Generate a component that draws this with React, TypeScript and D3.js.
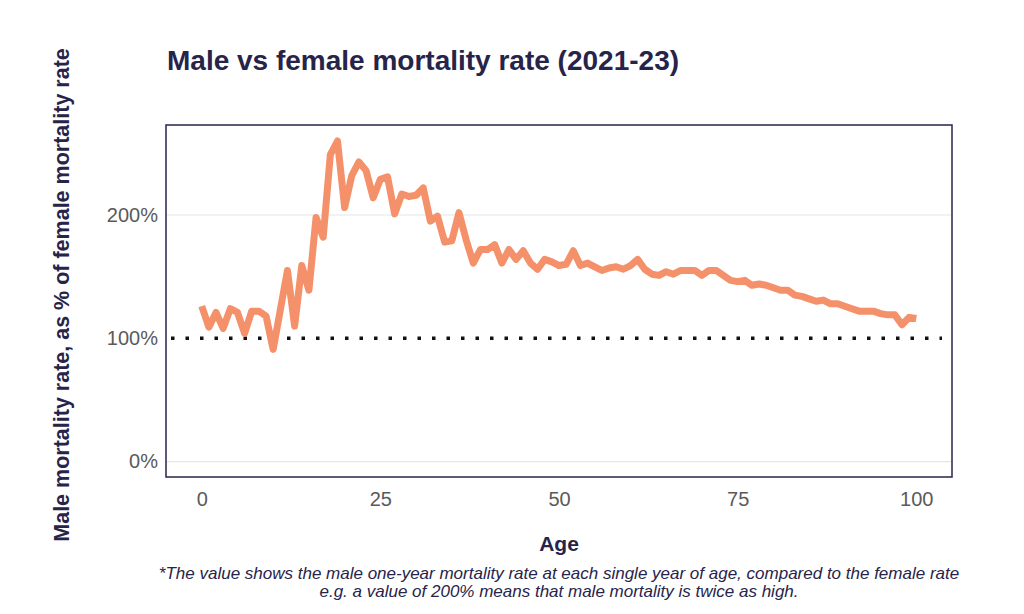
import React, { useRef, useEffect } from "react";
import * as d3 from "d3";

// Male mortality rate as % of female rate, single year of age 0-100
const ages = d3.range(0, 101);
const ratio = [
  126, 109, 121, 108, 124, 121, 104, 122, 122, 118,
  91, 123, 155, 110, 159, 139, 198, 182, 249, 260,
  206, 232, 243, 236, 214, 229, 231, 201, 217, 215,
  216, 222, 195, 199, 178, 179, 202, 180, 161, 172,
  172, 176, 161, 172, 164, 171, 161, 156, 164, 162,
  159, 160, 171, 159, 161, 158, 155, 157, 158, 156,
  159, 164, 156, 152, 151, 154, 152, 155, 155, 155,
  151, 155, 155, 151, 147, 146, 147, 143, 144, 143,
  141, 139, 139, 135, 134, 132, 130, 131, 128, 128,
  126, 124, 122, 122, 122, 120, 119, 119, 111, 117,
  116,
];
const xTicks = [0, 25, 50, 75, 100];
const yTicks = [0, 100, 200];

const navy = "#27244a";
const sans = "'Liberation Sans', Arial, sans-serif";

const App = () => {
  const ref = useRef<SVGSVGElement | null>(null);

  useEffect(() => {
    const frame = { left: 166, right: 952, top: 125, bottom: 477 };

    const svg = d3.select(ref.current);
    svg.selectAll("*").remove();

    const x = d3.scaleLinear().domain([-5, 105]).range([frame.left, frame.right]);
    const y = d3.scaleLinear().domain([-12.5, 273]).range([frame.bottom, frame.top]);

    // Title
    svg.append("text")
      .attr("x", 167)
      .attr("y", 70)
      .attr("fill", navy)
      .attr("font-family", sans)
      .attr("font-weight", "bold")
      .attr("font-size", 28)
      .text("Male vs female mortality rate (2021-23)");

    // Gridlines
    svg.append("g")
      .selectAll("line")
      .data(yTicks.filter((t) => t !== 100))
      .join("line")
      .attr("x1", frame.left)
      .attr("x2", frame.right)
      .attr("y1", (d) => y(d))
      .attr("y2", (d) => y(d))
      .attr("stroke", "#e6e6e6")
      .attr("stroke-width", 1.2);

    // 100% reference
    svg.append("line")
      .attr("x1", frame.left + 5)
      .attr("x2", frame.right - 10)
      .attr("y1", y(100))
      .attr("y2", y(100))
      .attr("stroke", "#111")
      .attr("stroke-width", 3.5)
      .attr("stroke-dasharray", "3.5 11");

    // Line
    const line = d3
      .line<number>()
      .x((_, i) => x(ages[i]))
      .y((d) => y(d));

    svg.append("path")
      .datum(ratio)
      .attr("fill", "none")
      .attr("stroke", "#f4916a")
      .attr("stroke-width", 7)
      .attr("stroke-linejoin", "round")
      .attr("d", line);

    // Frame
    svg.append("rect")
      .attr("x", frame.left)
      .attr("y", frame.top)
      .attr("width", frame.right - frame.left)
      .attr("height", frame.bottom - frame.top)
      .attr("fill", "none")
      .attr("stroke", navy)
      .attr("stroke-width", 1.5);

    // Y axis
    const yAxis = svg.append("g")
      .attr("transform", `translate(${frame.left - 5},0)`)
      .call(d3.axisLeft(y).tickValues(yTicks).tickSize(0).tickFormat((d) => `${d}%`));
    yAxis.select(".domain").remove();
    yAxis.selectAll("text")
      .attr("fill", "#5a5a5a")
      .attr("font-family", sans)
      .attr("font-size", 20);

    // X axis
    const xAxis = svg.append("g")
      .attr("transform", `translate(0,${frame.bottom + 8})`)
      .call(d3.axisBottom(x).tickValues(xTicks).tickSize(0));
    xAxis.select(".domain").remove();
    xAxis.selectAll("text")
      .attr("fill", "#5a5a5a")
      .attr("font-family", sans)
      .attr("font-size", 20)
      .attr("dy", "0.9em");

    // Axis titles
    svg.append("text")
      .attr("x", (frame.left + frame.right) / 2)
      .attr("y", 551)
      .attr("text-anchor", "middle")
      .attr("fill", navy)
      .attr("font-family", sans)
      .attr("font-weight", "bold")
      .attr("font-size", 21)
      .text("Age");

    svg.append("text")
      .attr("transform", `translate(69,${(frame.top + frame.bottom) / 2 - 6}) rotate(-90)`)
      .attr("text-anchor", "middle")
      .attr("fill", navy)
      .attr("font-family", sans)
      .attr("font-weight", "bold")
      .attr("font-size", 21.5)
      .text("Male mortality rate, as % of female mortality rate");

    // Footnote
    const note = svg.append("text")
      .attr("text-anchor", "middle")
      .attr("fill", navy)
      .attr("font-family", sans)
      .attr("font-style", "italic")
      .attr("font-size", 17);
    note.append("tspan")
      .attr("x", 559)
      .attr("y", 579)
      .text("*The value shows the male one-year mortality rate at each single year of age, compared to the female rate");
    note.append("tspan")
      .attr("x", 559)
      .attr("y", 597)
      .text("e.g. a value of 200% means that male mortality is twice as high.");
  }, []);

  return (
    <div style={{ position: "absolute", left: 0, top: 0 }}>
      <svg ref={ref} width={1024} height={614} viewBox="0 0 1024 614" />
    </div>
  );
};

export default App;
